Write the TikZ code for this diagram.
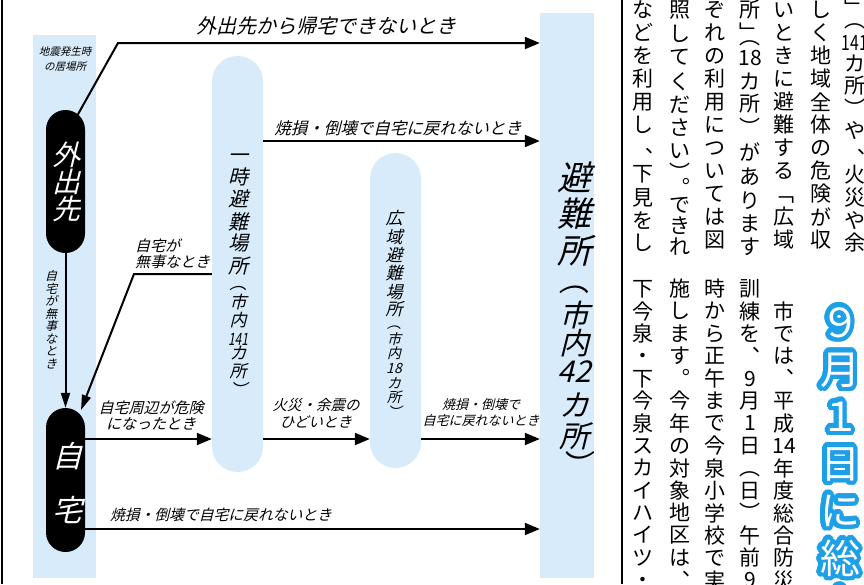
\documentclass[tikz,border=0pt]{standalone}
\usepackage{fontspec}
\usepackage{graphicx}
\usetikzlibrary{arrows.meta}
\newfontfamily\jp{Noto Sans CJK JP}
\newfontfamily\jpit[FakeSlant=0.25]{Noto Sans CJK JP}
\definecolor{lblue}{RGB}{216,235,250}
\definecolor{headblue}{RGB}{30,160,230}
\newcommand\vcol[4]{\foreach \yy/\cc [count=\k] in {#4}{\node[#3] (#1-\k) at (#2,\yy) {\cc};}}
\newcommand\vgrid[6]{\foreach \cc [count=\k from 0] in {#6}{\node[#5] (#1-\k) at ({#2},{#3+\k*#4}) {\cc};}}
\tikzset{
  band/.style={fill=lblue, inner sep=0pt},
  blackpill/.style={fill=black, inner sep=0pt},
  arr/.style={line width=2pt, -{Triangle[length=15pt,width=12pt]}},
  narr/.style={line width=2pt, -{Triangle[length=15pt,width=9pt]}},
  lab/.style={inner sep=0pt, align=center},
  dv/.style={inner sep=0pt, execute at begin node=\vphantom{国}},
  rt/.style={inner sep=0pt, font=\jp\fontsize{21}{21}\selectfont, execute at begin node=\vphantom{国}},
  headtxt/.style={inner sep=0pt, font=\jp\fontsize{40}{40}\selectfont, execute at begin node=\vphantom{国}},
}
\begin{document}
\begin{tikzpicture}[x=1pt,y=-1pt]
\useasboundingbox (0,0) rectangle (864,584);
\clip (0,0) rectangle (864,584);
% frame lines
\draw[line width=1.5pt] (2,0) -- (2,584);
\draw[line width=1.5pt] (622,0) -- (622,584);
% bands and pills
\node[band, minimum width=63pt, minimum height=543pt] (basecol) at (64.5,306.5) {};
\node[band, minimum width=54pt, minimum height=565pt] (hinan) at (567,295.5) {};
\node[band, minimum width=51pt, minimum height=416pt, rounded corners=25.5pt] (ichiji) at (237.5,264) {};
\node[band, minimum width=51pt, minimum height=315pt, rounded corners=25.5pt] (kouiki) at (395.5,310.5) {};
\node[blackpill, minimum width=39pt, minimum height=143pt, rounded corners=19.5pt] (gaishutsu) at (65.5,181.5) {};
\node[blackpill, minimum width=39pt, minimum height=144pt, rounded corners=19.5pt] (jitaku) at (65.5,480) {};
% coordinates
\coordinate (r1) at (0,43);
\coordinate (r2) at (0,141);
\coordinate (r3) at (0,274);
\coordinate (r4) at (0,439);
\coordinate (r5) at (0,529);
\coordinate (g1) at (77,116);
\coordinate (k1) at (118,43);
\coordinate (k2) at (134,274);
\coordinate (j1) at (81,410);
% connectors
\draw[arr] (g1) -- (k1) -- (hinan.west |- r1);
\draw[arr] (ichiji.east |- r2) -- (hinan.west |- r2);
\draw[narr] (gaishutsu.south) -- (jitaku.north);
\draw[narr] (ichiji.west |- r3) -- (k2) -- (j1);
\draw[arr] (jitaku.east |- r4) -- (ichiji.west |- r4);
\draw[arr] (ichiji.east |- r4) -- (kouiki.west |- r4);
\draw[arr] (kouiki.east |- r4) -- (hinan.west |- r4);
\draw[arr] (jitaku.east |- r5) -- (hinan.west |- r5);
% horizontal labels
\node[lab, font=\jpit\fontsize{10.5}{14.5}\selectfont] (t0) at (65,59) {地震発生時\\の居場所};
\node[lab, font=\jpit\fontsize{20}{20}\selectfont] (t1) at (326,26) {外出先から帰宅できないとき};
\node[lab, font=\jpit\fontsize{16.5}{16.5}\selectfont] (t2) at (398,128.5) {焼損・倒壊で自宅に戻れないとき};
\node[lab, align=left, anchor=west, font=\jpit\fontsize{15}{16.5}\selectfont] (t3) at (135,254) {自宅が\\無事なとき};
\node[lab, font=\jpit\fontsize{15}{16}\selectfont] (t4) at (151,416) {自宅周辺が危険\\になったとき};
\node[lab, font=\jpit\fontsize{14.5}{17}\selectfont] (t5) at (316,413.5) {火災・余震の\\ひどいとき};
\node[lab, font=\jpit\fontsize{13}{16}\selectfont] (t6) at (481,413) {焼損・倒壊で\\自宅に戻れないとき};
\node[lab, font=\jpit\fontsize{14.8}{14.8}\selectfont] (t7) at (221,515) {焼損・倒壊で自宅に戻れないとき};
% vertical diagram texts
\vcol{gt}{66}{dv, text=white, font=\jpit\fontsize{28}{28}\selectfont}{155/外,182/出,209/先}
\vcol{jt}{67}{dv, text=white, font=\jpit\fontsize{30}{30}\selectfont}{456/自,510/宅}
\vgrid{bz}{51}{276}{12.6}{dv, font=\jpit\fontsize{12}{12}\selectfont}{自,宅,が,無,事,な,と,き}
\vcol{ia}{238}{dv, font=\jpit\fontsize{20}{20}\selectfont}{155/一,177/時,199/避,222/難,243/場,266/所}
\vcol{ib}{238}{dv, font=\jpit\fontsize{17}{17}\selectfont}{283/︵,302/市,320/内,339/\scalebox{0.7}[1]{141},353/カ,371/所,390/︶}
\vcol{ka}{394}{dv, font=\jpit\fontsize{17}{17}\selectfont}{218/広,237/域,255/避,273/難,292/場,309/所}
\vcol{kb}{394}{dv, font=\jpit\fontsize{14}{14}\selectfont}{323.5/︵,339/市,353/内,368/18,383/カ,397/所,412.5/︶}
\vcol{ha}{574}{dv, font=\jpit\fontsize{34}{34}\selectfont}{178/避,214/難,251/所}
\vcol{hb}{574}{dv, font=\jpit\fontsize{30}{30}\selectfont}{280.5/︵,315/市,343/内,372/42,406/カ,436/所,465.5/︶}
% right-hand article, upper block
\vcol{ua}{855}{rt}{8/﹂,20/︵,43/\scalebox{0.75}[1]{141},64/カ,86/所,109/︶,131/や,159/︑,175/火,198/災,221/や,243/余}
\vgrid{ub}{821}{10}{23}{rt}{し,く,地,域,全,体,の,危,険,が,収}
\vgrid{uc}{784}{10}{23}{rt}{い,と,き,に,避,難,す,る,﹁,広,域}
\vcol{ud}{750}{rt}{10/所,33/﹂,37/︵,58/18,82/カ,104/所,128/︶,152/が,177/あ,201/り,224/ま,247/す}
\vgrid{ue}{715}{10}{23}{rt}{ぞ,れ,の,利,用,に,つ,い,て,は,図}
\vcol{uf}{680}{rt}{10/照,34/し,57/て,82/く,105/だ,128/さ,151/い,173/︶,188/︒,205/で,226/き,247/れ}
\vcol{ug}{643}{rt}{10/な,33/ど,56/を,79/利,102/用,125/し,158/︑,174/下,198/見,221/を,243/し}
% lower block
\vgrid{la}{643}{289}{22.4}{rt}{下,今,泉,・,下,今,泉,ス,カ,イ,ハ,イ,ツ,・}
\vgrid{lb}{680}{289}{22.4}{rt}{施,し,ま,す,︒,今,年,の,対,象,地,区,は,︑}
\vgrid{lc}{715}{289}{22.4}{rt}{時,か,ら,正,午,ま,で,今,泉,小,学,校,で,実}
\vgrid{ld}{750}{289}{22.4}{rt}{訓,練,を,︑,9,月,1,日,︵,日,︶,午,前,9}
\vgrid{le}{784}{311.4}{22.4}{rt}{市,で,は,︑,平,成,14,年,度,総,合,防,災}
% heading with outline
\foreach \a in {0,15,...,345}{
  \pgfmathsetmacro\hxa{840+4.5*cos(\a)}
  \pgfmathsetmacro\hya{323+4.5*sin(\a)}
  \pgfmathsetmacro\hxb{840+2.5*cos(\a)}
  \pgfmathsetmacro\hyb{323+2.5*sin(\a)}
  \vgrid{hx\a}{\hxa}{\hya}{47}{headtxt, text=headblue}{９,月,１,日,に,総,合}
  \vgrid{hy\a}{\hxb}{\hyb}{47}{headtxt, text=headblue}{９,月,１,日,に,総,合}
}
\vgrid{hw}{840}{323}{47}{headtxt, text=white}{９,月,１,日,に,総,合}
\end{tikzpicture}
\end{document}
